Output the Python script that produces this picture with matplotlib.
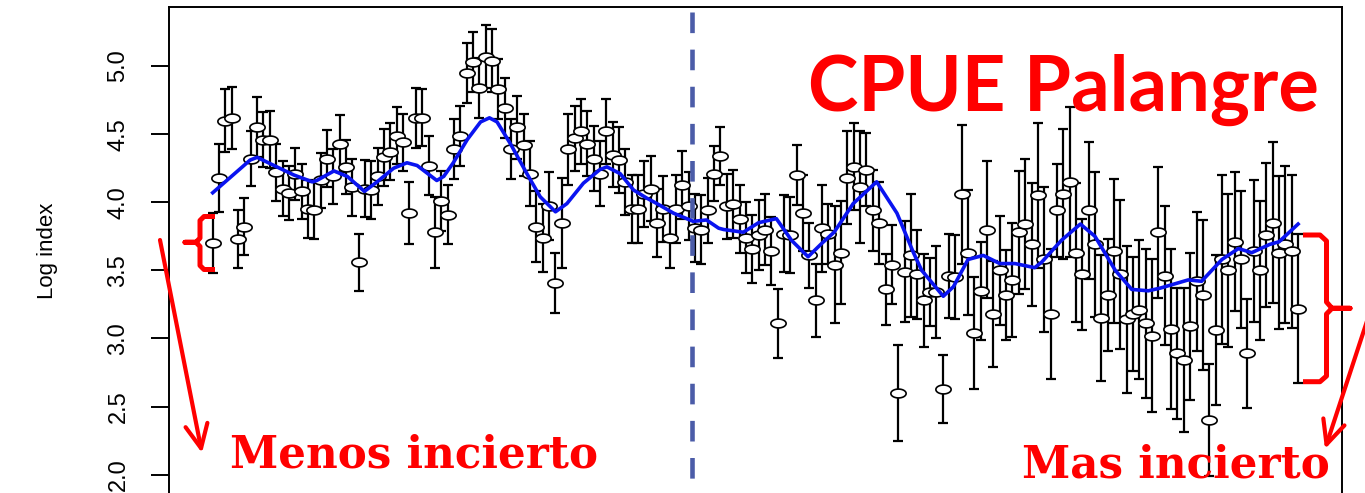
import numpy as np
import matplotlib.pyplot as plt
from matplotlib.path import Path
from matplotlib.lines import Line2D
from matplotlib.patches import FancyArrowPatch

# CPUE log index per time step
log_index = [
    3.70, 4.18, 4.60, 4.62, 3.73, 3.82, 4.32, 4.55, 4.46, 4.46,
    4.22, 4.10, 4.07, 4.21, 4.08, 3.95, 3.94, 4.16, 4.32, 4.19,
    4.43, 4.26, 4.11, 3.56, 4.10, 4.09, 4.19, 4.33, 4.37, 4.49,
    4.44, 3.92, 4.62, 4.62, 4.27, 3.78, 4.01, 3.91, 4.39, 4.49,
    4.95, 5.03, 4.84, 5.07, 5.04, 4.83, 4.69, 4.39, 4.55, 4.42,
    4.21, 3.82, 3.74, 3.97, 3.41, 3.85, 4.39, 4.47, 4.52, 4.43,
    4.32, 4.21, 4.52, 4.35, 4.31, 4.15, 3.95, 3.95, 4.06, 4.10,
    3.85, 3.95, 3.74, 3.95, 4.13, 3.97, 3.81, 3.80, 3.94, 4.21,
    4.34, 3.97, 3.99, 3.88, 3.74, 3.66, 3.76, 3.80, 3.64, 3.11,
    3.77, 3.76, 4.20, 3.92, 3.61, 3.28, 3.81, 3.77, 3.54, 3.63,
    4.18, 4.26, 4.11, 4.24, 3.94, 3.85, 3.36, 3.54, 2.60, 3.49,
    3.61, 3.47, 3.28, 3.34, 3.34, 2.63, 3.46, 3.45, 4.06, 3.63,
    3.04, 3.35, 3.80, 3.18, 3.50, 3.32, 3.43, 3.78, 3.84, 3.69,
    4.05, 3.58, 3.18, 3.94, 4.06, 4.15, 3.63, 3.47, 3.94, 3.69,
    3.15, 3.32, 3.64, 3.47, 3.14, 3.18, 3.21, 3.11, 3.02, 3.78,
    3.46, 3.07, 2.89, 2.84, 3.09, 3.42, 3.32, 2.40, 3.06, 3.58,
    3.50, 3.71, 3.58, 2.89, 3.64, 3.50, 3.76, 3.85, 3.63, 3.69,
    3.64, 3.22,
]

# half width of the error bars
half_ci = [
    0.22, 0.25, 0.23, 0.23, 0.21, 0.21, 0.20, 0.22, 0.20, 0.21,
    0.21, 0.20, 0.20, 0.19, 0.20, 0.21, 0.21, 0.20, 0.21, 0.20,
    0.21, 0.20, 0.21, 0.21, 0.21, 0.21, 0.21, 0.21, 0.21, 0.21,
    0.21, 0.23, 0.22, 0.21, 0.22, 0.26, 0.22, 0.22, 0.22, 0.22,
    0.22, 0.22, 0.22, 0.23, 0.23, 0.22, 0.22, 0.22, 0.23, 0.23,
    0.24, 0.26, 0.25, 0.25, 0.22, 0.33, 0.26, 0.24, 0.24, 0.24,
    0.24, 0.24, 0.24, 0.24, 0.24, 0.24, 0.25, 0.25, 0.24, 0.24,
    0.25, 0.24, 0.22, 0.25, 0.25, 0.25, 0.25, 0.25, 0.24, 0.20,
    0.21, 0.24, 0.25, 0.25, 0.26, 0.25, 0.26, 0.26, 0.25, 0.25,
    0.28, 0.28, 0.22, 0.28, 0.24, 0.27, 0.32, 0.22, 0.43, 0.38,
    0.34, 0.32, 0.41, 0.27, 0.30, 0.30, 0.26, 0.29, 0.355, 0.37,
    0.45, 0.33, 0.34, 0.25, 0.34, 0.25, 0.31, 0.31, 0.51, 0.46,
    0.41, 0.36, 0.50, 0.39, 0.40, 0.33, 0.42, 0.45, 0.48, 0.45,
    0.53, 0.53, 0.48, 0.34, 0.48, 0.55, 0.51, 0.41, 0.50, 0.53,
    0.46, 0.41, 0.53, 0.55, 0.54, 0.42, 0.51, 0.55, 0.56, 0.48,
    0.51, 0.59, 0.48, 0.53, 0.54, 0.51, 0.55, 0.41, 0.55, 0.62,
    0.56, 0.51, 0.50, 0.40, 0.52, 0.51, 0.53, 0.59, 0.56, 0.58,
    0.56, 0.55,
]

# smoother (blue line), read at these positions
smooth_x = [1.0, 6.9, 8.0, 11.1, 13.8, 16.7, 17.4, 20.1, 22.2, 24.9,
            26.9, 29.5, 31.6, 33.2, 36.3, 37.4, 38.9, 41.1, 43.2, 44.6,
            45.8, 47.9, 50.5, 52.6, 55.0, 56.8, 59.4, 62.0, 63.1, 65.2,
            67.3, 69.4, 71.0, 73.6, 76.7, 78.8, 80.7, 81.5, 84.6, 87.0,
            89.8, 92.2, 94.8, 97.0, 98.9, 101.9, 105.6, 108.8, 111.4, 112.7,
            116.1, 117.7, 120.0, 122.4, 125.0, 127.4, 130.5, 131.6, 134.7, 137.7,
            140.0, 143.2, 145.8, 148.4, 150.3, 154.7, 156.8, 160.0, 162.6, 164.7,
            167.5, 169.0, 172.0]
smooth_y = [4.07, 4.31, 4.33, 4.26, 4.20, 4.15, 4.16, 4.23, 4.19, 4.08,
            4.15, 4.25, 4.29, 4.27, 4.16, 4.19, 4.29, 4.46, 4.59, 4.62,
            4.59, 4.43, 4.21, 4.04, 3.93, 3.99, 4.14, 4.24, 4.26, 4.21,
            4.09, 4.03, 3.99, 3.92, 3.86, 3.87, 3.81, 3.80, 3.78, 3.85,
            3.88, 3.72, 3.60, 3.70, 3.78, 3.99, 4.15, 3.92, 3.63, 3.50,
            3.31, 3.38, 3.58, 3.61, 3.55, 3.55, 3.52, 3.56, 3.72, 3.84,
            3.75, 3.50, 3.36, 3.35, 3.37, 3.43, 3.42, 3.58, 3.66, 3.63,
            3.69, 3.71, 3.84]

split_at = 76.5
yticks = [2.0, 2.5, 3.0, 3.5, 4.0, 4.5, 5.0]

W, H = 1365, 493
fig = plt.figure(figsize=(W / 100, H / 100), dpi=100)
red = '#ff0000'


def px(x, y):
    # pixel position (from top-left) -> figure fraction
    return (x / W, 1 - y / H)


n = len(log_index)
x = np.arange(1, n + 1)
ax = fig.add_axes([169.3 / W, (H - 501.9) / H, (1341.5 - 169.3) / W, (501.9 - 6.7) / H])
ax.set_xlim(1 - 0.04 * (n - 1), n + 0.04 * (n - 1))
ax.set_ylim(1.8, 5.436)

ax.errorbar(x, log_index, yerr=half_ci, fmt='none', ecolor='black',
            elinewidth=1.6, capsize=3.9, capthick=1.6, zorder=2)

t = np.linspace(0, 2 * np.pi, 41)
ell = Path(np.column_stack([np.cos(t), 0.58 * np.sin(t)]), closed=True)
ax.plot(x, log_index, ls='none', marker=ell, ms=11, mfc='white',
        mec='black', mew=1.2, zorder=3)

ax.plot([split_at, split_at], [5.40, 1.8], color='#4b5ca8', lw=3.3,
        dashes=(4.5, 3.6), zorder=3.5)
ax.plot(smooth_x, smooth_y, color='#0a14f0', lw=2.6, zorder=4,
        solid_joinstyle='round')

ax.set_xticks([])
ax.set_yticks(yticks)
ax.set_yticklabels(['%.1f' % v for v in yticks], rotation=90,
                   family='Liberation Sans', fontsize=17)
for lab in ax.get_yticklabels():
    lab.set_va('center')
ax.tick_params(axis='y', length=12.7, width=1.4, pad=16)
for s in ax.spines.values():
    s.set_linewidth(1.4)

fig.text(*px(48, 251), 'Log index', rotation=90, ha='center', va='center',
         family='Liberation Sans', fontsize=16)

# annotations
t1 = fig.text(*px(808, 111), 'CPUE Palangre', color=red, family='Lato',
              weight='bold', fontsize=50, ha='left', va='baseline')
t2 = fig.text(*px(230, 467.5), 'Menos incierto', color=red, family='DejaVu Serif',
              weight='bold', fontsize=30, ha='left', va='baseline')
t3 = fig.text(*px(1022, 477), 'Mas incierto', color=red, family='DejaVu Serif',
              weight='bold', fontsize=30, ha='left', va='baseline')
fig.canvas.draw()
r = fig.canvas.get_renderer()
for txt, wpx in [(t1, 512), (t2, 368), (t3, 308)]:
    bb = txt.get_window_extent(r)
    txt.set_fontsize(txt.get_fontsize() * wpx / bb.width)

# braces
left_brace = [(215, 216.5), (204, 216.5), (200, 220.5), (200, 238), (196, 242.3),
              (185, 242.3), (196, 242.3), (200, 246.5), (200, 265.5), (204, 269.5),
              (215, 269.5)]
right_brace = [(1303, 235), (1320, 235), (1326.5, 241), (1326.5, 302), (1332, 308.3),
               (1350, 308.3), (1332, 308.3), (1326.5, 314), (1326.5, 376),
               (1320, 381.7), (1303, 381.7)]
for br in [left_brace, right_brace]:
    pts = [px(a, b) for a, b in br]
    fig.add_artist(Line2D([p[0] for p in pts], [p[1] for p in pts], color=red,
                          lw=3.6, solid_joinstyle='round', solid_capstyle='butt',
                          transform=fig.transFigure))

# arrows
for a, b in [((160, 240), (202, 453)), ((1370, 312), (1325, 449))]:
    arr = FancyArrowPatch(px(*a), px(*b), transform=fig.transFigure,
                          arrowstyle='->,head_length=17,head_width=8',
                          mutation_scale=1, lw=3.0, color=red,
                          shrinkA=0, shrinkB=0)
    fig.add_artist(arr)

fig.savefig('out.png', dpi=100)
